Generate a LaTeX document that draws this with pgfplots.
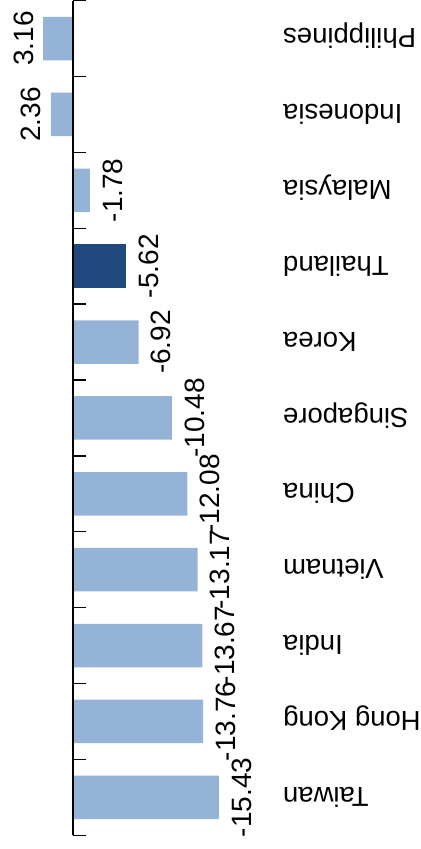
\documentclass[border=0pt]{standalone}
\usepackage{pgfplots}
\pgfplotsset{compat=1.18}
\usepackage{fontspec}
\setmainfont{Liberation Sans}
\definecolor{lightbar}{HTML}{95B3D7}
\definecolor{darkbar}{HTML}{1F497D}
\newcommand{\catfont}{\fontsize{27.5bp}{33bp}\selectfont}
\newcommand{\valfont}{\fontsize{28bp}{33bp}\selectfont}

\begin{document}
\begin{tikzpicture}
  \begin{axis}[
    xbar, bar width=43.5bp, bar shift=0pt,
    scale only axis, width=283bp, height=835bp,
    x dir=reverse, xmin=-22.2, xmax=7.72,
    ymin=-0.5, ymax=10.5,
    axis line style={draw=none},
    xtick=\empty,
    ytick={0,...,10}, major tick length=0pt,
    yticklabel pos=right,
    yticklabels={Taiwan,Hong Kong,India,Vietnam,China,Singapore,Korea,Thailand,Malaysia,Indonesia,Philippines},
    yticklabel style={rotate=180, anchor=east, inner sep=0pt,
      text height=19.7bp, text depth=0pt, font=\catfont},
    nodes near coords, point meta=explicit symbolic,
    every node near coord/.append style={rotate=90, font=\valfont,
      inner sep=12bp, text height=20bp, text depth=0pt},
    clip=false,
  ]
    % negative, light
    \addplot[fill=lightbar, draw=none,
      every node near coord/.append style={anchor=north}]
      coordinates {(-15.43,0) [-15.43] (-13.76,1) [-13.76] (-13.67,2) [-13.67]
                   (-13.17,3) [-13.17] (-12.08,4) [-12.08] (-10.48,5) [-10.48]
                   (-6.92,6) [-6.92] (-1.78,8) [-1.78]};
    % Thailand, dark
    \addplot[fill=darkbar, draw=none,
      every node near coord/.append style={anchor=north}]
      coordinates {(-5.62,7) [-5.62]};
    % positive, light
    \addplot[fill=lightbar, draw=none,
      every node near coord/.append style={anchor=south, inner sep=10bp}]
      coordinates {(2.36,9) [2.36] (3.16,10) [3.16]};

    \draw[line width=1.3pt] (axis cs:0,-0.5) -- (axis cs:0,10.5);
    \draw[line width=1.3pt]
      (axis cs:0,-0.5) -- ([xshift=13bp]axis cs:0,-0.5)
      (axis cs:0,0.5) -- ([xshift=13bp]axis cs:0,0.5)
      (axis cs:0,1.5) -- ([xshift=13bp]axis cs:0,1.5)
      (axis cs:0,2.5) -- ([xshift=13bp]axis cs:0,2.5)
      (axis cs:0,3.5) -- ([xshift=13bp]axis cs:0,3.5)
      (axis cs:0,4.5) -- ([xshift=13bp]axis cs:0,4.5)
      (axis cs:0,5.5) -- ([xshift=13bp]axis cs:0,5.5)
      (axis cs:0,6.5) -- ([xshift=13bp]axis cs:0,6.5)
      (axis cs:0,7.5) -- ([xshift=13bp]axis cs:0,7.5)
      (axis cs:0,8.5) -- ([xshift=13bp]axis cs:0,8.5)
      (axis cs:0,9.5) -- ([xshift=13bp]axis cs:0,9.5)
      (axis cs:0,10.5) -- ([xshift=13bp]axis cs:0,10.5);
  \end{axis}
\end{tikzpicture}
\end{document}
